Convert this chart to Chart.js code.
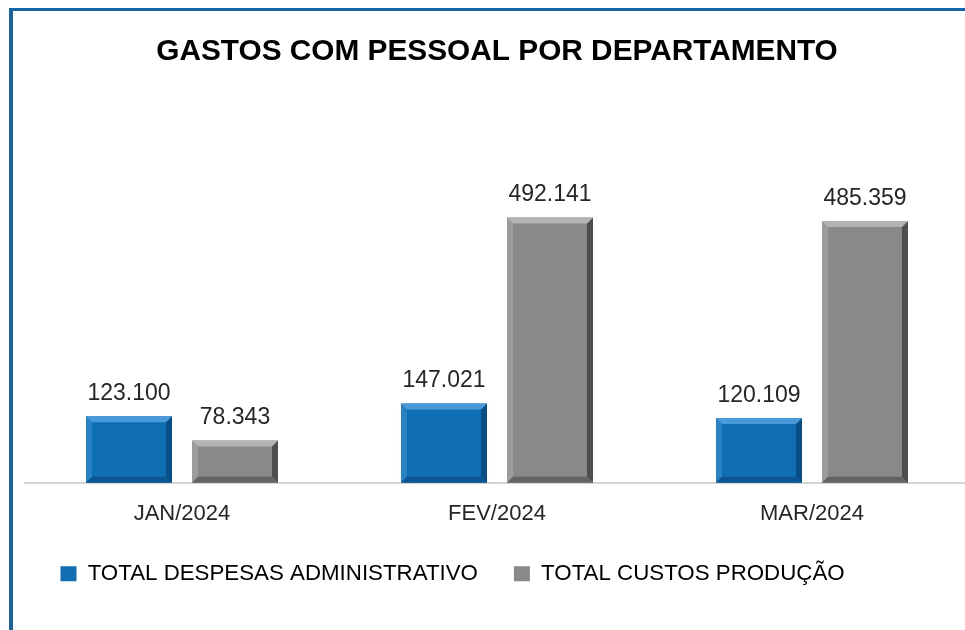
<!DOCTYPE html>
<html>
<head>
<meta charset="utf-8">
<script src="https://cdn.jsdelivr.net/npm/chart.js@4.4.1/dist/chart.umd.min.js"></script>
<style>
  html, body { margin: 0; padding: 0; background: #ffffff; overflow: hidden; width: 965px; height: 630px; }
  #frame { position: absolute; left: 9px; top: 8px; width: 1000px; height: 640px; border-left: 4px solid #1565A6; border-top: 3px solid #1565A6; }
  #wrap { position: absolute; left: 0; top: 0; width: 1000px; height: 630px; }
</style>
</head>
<body>
<div id="frame"></div>
<div id="wrap"><canvas id="c" width="1000" height="630"></canvas></div>
<script>
const categories = ['JAN/2024', 'FEV/2024', 'MAR/2024'];
const seriesNames = ['TOTAL DESPESAS ADMINISTRATIVO', 'TOTAL CUSTOS PRODUÇÃO'];
const adminValues = [123100, 147021, 120109];
const producaoValues = [78343, 492141, 485359];
const chartTitle = 'GASTOS COM PESSOAL POR DEPARTAMENTO';

const FONT = '"Liberation Sans", Arial, sans-serif';

function fmt(v) {
  return String(Math.round(v)).replace(/\B(?=(\d{3})+(?!\d))/g, '.');
}

const palette = [
  { face: '#106FB4', top: '#4A9ADA', left: '#2A82C6', right: '#0A4E86', bottom: '#0B5592' },
  { face: '#898989', top: '#B3B3B3', left: '#9C9C9C', right: '#4E4E4E', bottom: '#636363' }
];

const bevelPlugin = {
  id: 'bevel',
  afterDatasetsDraw(chart) {
    const ctx = chart.ctx;
    chart.data.datasets.forEach((ds, di) => {
      const meta = chart.getDatasetMeta(di);
      const p = palette[di];
      meta.data.forEach(el => {
        const l = el.x - el.width / 2, r = el.x + el.width / 2;
        const t = Math.min(el.y, el.base), b = Math.max(el.y, el.base);
        const bv = Math.min(6, (b - t) / 3);
        ctx.save();
        const poly = (pts, col) => {
          ctx.beginPath();
          ctx.moveTo(pts[0][0], pts[0][1]);
          for (let i = 1; i < pts.length; i++) ctx.lineTo(pts[i][0], pts[i][1]);
          ctx.closePath();
          ctx.fillStyle = col;
          ctx.fill();
        };
        poly([[l, t], [l + bv, t + bv], [l + bv, b - bv], [l, b]], p.left);
        poly([[r, t], [r, b], [r - bv, b - bv], [r - bv, t + bv]], p.right);
        poly([[l, b], [r, b], [r - bv, b - bv], [l + bv, b - bv]], p.bottom);
        poly([[l, t], [r, t], [r - bv, t + bv], [l + bv, t + bv]], p.top);
        ctx.restore();
      });
    });
  }
};

const labelPlugin = {
  id: 'valueLabels',
  afterDatasetsDraw(chart) {
    const ctx = chart.ctx;
    ctx.save();
    ctx.font = '23px ' + FONT;
    ctx.fillStyle = '#262626';
    ctx.textAlign = 'center';
    ctx.textBaseline = 'alphabetic';
    chart.data.datasets.forEach((ds, di) => {
      const meta = chart.getDatasetMeta(di);
      meta.data.forEach((el, i) => {
        ctx.fillText(fmt(ds.data[i]), el.x, el.y - 16);
      });
    });
    ctx.restore();
  }
};

new Chart(document.getElementById('c'), {
  type: 'bar',
  data: {
    labels: categories,
    datasets: [
      { label: seriesNames[0], data: adminValues, backgroundColor: palette[0].face, borderWidth: 0,
        categoryPercentage: 0.673, barPercentage: 0.811 },
      { label: seriesNames[1], data: producaoValues, backgroundColor: palette[1].face, borderWidth: 0,
        categoryPercentage: 0.673, barPercentage: 0.811 }
    ]
  },
  options: {
    responsive: false,
    animation: false,
    layout: { padding: { left: 24.5, right: 30.5, top: 0, bottom: 35 } },
    scales: {
      x: {
        grid: { display: false, drawTicks: false },
        border: { display: true, color: '#D4D4D4', width: 2 },
        ticks: { color: '#262626', font: { family: FONT, size: 22 }, padding: 18 },
        afterFit(scale) { scale.height = 44; }
      },
      y: {
        display: false,
        min: 0,
        max: 600000
      }
    },
    plugins: {
      title: {
        display: true,
        text: chartTitle,
        color: '#000000',
        font: { family: FONT, size: 29.8, weight: 'bold' },
        padding: { top: 34, bottom: 89.5 }
      },
      legend: {
        position: 'bottom',
        align: 'start',
        labels: {
          color: '#1F1F1F',
          font: { family: FONT, size: 22.3 },
          boxWidth: 16,
          boxHeight: 15,
          padding: 36,
          generateLabels(chart) {
            return chart.data.datasets.map((ds, i) => ({
              text: ds.label,
              fillStyle: palette[i].face,
              strokeStyle: palette[i].face,
              lineWidth: 0,
              datasetIndex: i,
              hidden: false
            }));
          }
        }
      },
      tooltip: { enabled: false }
    }
  },
  plugins: [bevelPlugin, labelPlugin]
});
</script>
</body>
</html>
